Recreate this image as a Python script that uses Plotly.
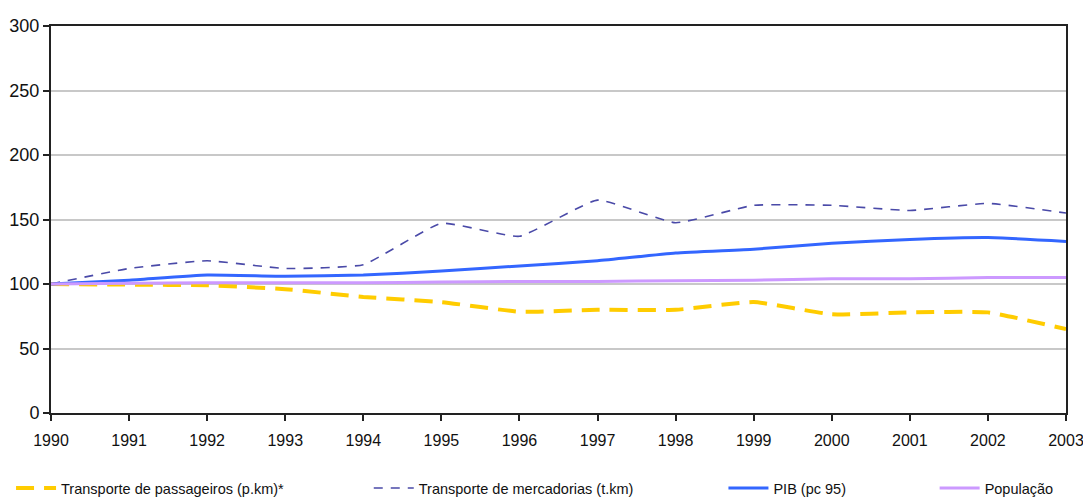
import plotly.graph_objects as go

years = list(range(1990, 2004))

passageiros = [100, 99.5, 99, 96, 90, 86, 78.5, 80, 80, 86, 76.5, 78, 78, 65]
mercadorias = [100, 112, 118, 112, 115, 147, 137, 165, 147.5, 161, 161, 157, 162.5, 155]
pib = [100, 103, 107, 106, 107, 110, 114, 118, 124, 127, 131.5, 134.5, 136, 133]
populacao = [100, 100.5, 101, 101, 101, 101.5, 102, 102, 102.5, 103, 104, 104, 105, 105]

names = ["Transporte de passageiros (p.km)*", "Transporte de mercadorias (t.km)",
         "PIB (pc 95)", "População"]

FONT = "Liberation Sans Narrow, Arial Narrow, Liberation Sans, Arial"

fig = go.Figure()

series = [
    (passageiros, names[0], dict(color="#FFCC00", width=4, dash="18px,10px"), "legend"),
    (mercadorias, names[1], dict(color="#4A4AA8", width=1.6, dash="9px,8px"), "legend2"),
    (pib, names[2], dict(color="#3366FF", width=3), "legend3"),
    (populacao, names[3], dict(color="#CC99FF", width=3), "legend4"),
]

for vals, name, line, leg in series:
    fig.add_trace(go.Scatter(
        x=years, y=vals, name=name, mode="lines",
        line=dict(shape="spline", smoothing=0.4, **line),
        legend=leg, showlegend=True,
    ))

# one legend per series so each entry sits at its own spot along the bottom
legend_common = dict(orientation="h", xref="container", yref="container",
                     yanchor="middle", y=0.02, xanchor="left",
                     bgcolor="rgba(0,0,0,0)", font=dict(family=FONT, size=14.5, color="#111"),
                     itemwidth=40)

fig.update_layout(
    width=1083, height=498,
    margin=dict(l=51, r=17, t=26, b=85, autoexpand=False),
    paper_bgcolor="white", plot_bgcolor="white",
    showlegend=True,
    font=dict(family=FONT, size=16, color="#111"),
    legend=dict(x=0.0102, **legend_common),
    legend2=dict(x=0.3405, **legend_common),
    legend3=dict(x=0.668, **legend_common),
    legend4=dict(x=0.863, **legend_common),
    xaxis=dict(
        range=[1990, 2003], tickmode="array", tickvals=years,
        ticktext=[str(y) for y in years],
        showline=True, linecolor="#222", linewidth=2, mirror=True,
        ticks="outside", ticklen=6, tickcolor="#222", tickwidth=1.5,
        ticklabelstandoff=6,
        showgrid=False, zeroline=False, ticklabeloverflow="allow",
        automargin=False,
        tickfont=dict(family=FONT, size=16),
    ),
    yaxis=dict(
        range=[0, 300], tickmode="array", tickvals=[0, 50, 100, 150, 200, 250, 300],
        showline=True, linecolor="#222", linewidth=2, mirror=True,
        ticks="outside", ticklen=6, tickcolor="#222", tickwidth=1.5,
        showgrid=True, gridcolor="#C8C8C8", gridwidth=1.5, zeroline=False,
        automargin=False,
        tickfont=dict(family=FONT, size=18),
    ),
)

fig.write_html("out.html")
